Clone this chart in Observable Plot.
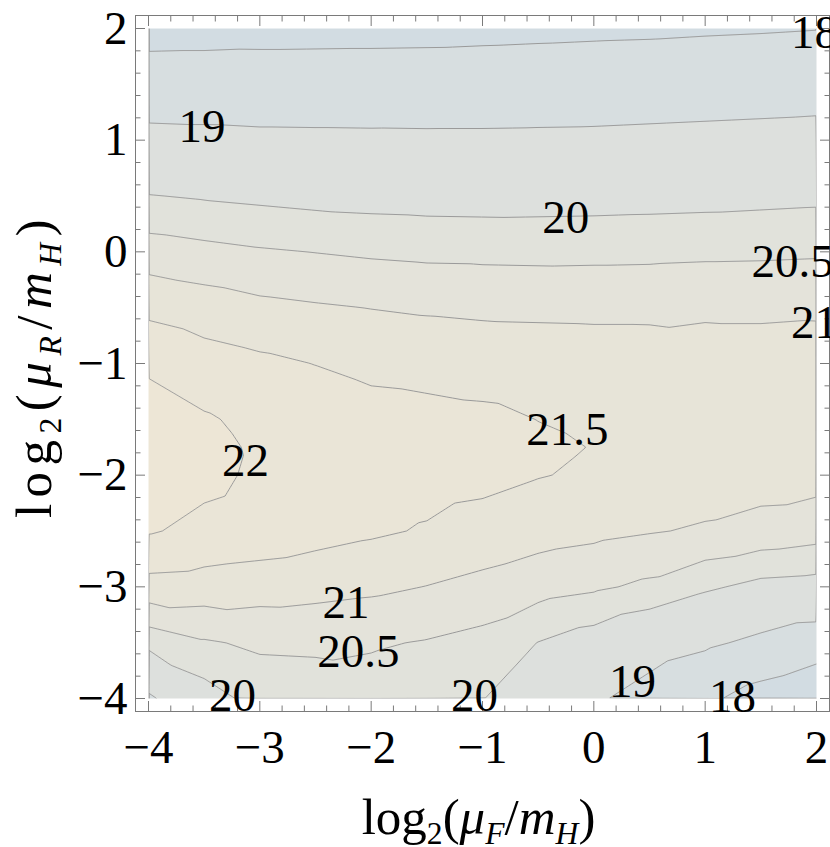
<!DOCTYPE html>
<html><head><meta charset="utf-8">
<script src="https://cdn.jsdelivr.net/npm/d3@7"></script>
<script src="https://cdn.jsdelivr.net/npm/@observablehq/plot@0.6"></script>
<style>html,body{margin:0;padding:0;background:#fff}</style>
</head><body><div id="chart"></div>
<script>
// grid of sample positions
const xGrid = [-4, -3.5, -3, -2.5, -2, -1.5, -1, -0.5, 0, 0.5, 1, 1.5, 2];
const yGrid = [2, 1.5, 1, 0.5, 0, -0.5, -1, -1.5, -1.75, -2, -2.5, -3, -3.5, -4];
// values (rows follow yGrid, columns follow xGrid)
const zRows = [
  [17.68, 17.70, 17.73, 17.74, 17.75, 17.76, 17.79, 17.82, 17.85, 17.87, 17.91, 17.94, 17.98],
  [18.46, 18.46, 18.45, 18.45, 18.45, 18.46, 18.47, 18.49, 18.51, 18.54, 18.57, 18.60, 18.64],
  [19.24, 19.21, 19.17, 19.16, 19.15, 19.14, 19.14, 19.15, 19.16, 19.19, 19.22, 19.25, 19.28],
  [20.02, 19.95, 19.89, 19.83, 19.80, 19.78, 19.77, 19.78, 19.79, 19.81, 19.83, 19.86, 19.89],
  [20.74, 20.64, 20.55, 20.49, 20.43, 20.39, 20.38, 20.37, 20.38, 20.39, 20.41, 20.42, 20.44],
  [21.38, 21.25, 21.12, 21.05, 20.99, 20.94, 20.90, 20.89, 20.88, 20.88, 20.92, 20.92, 20.94],
  [21.91, 21.71, 21.60, 21.49, 21.38, 21.35, 21.33, 21.30, 21.28, 21.27, 21.22, 21.20, 21.19],
  [22.25, 22.05, 21.88, 21.80, 21.68, 21.63, 21.58, 21.495, 21.44, 21.36, 21.30, 21.26, 21.24],
  [22.30, 22.10, 21.95, 21.87, 21.75, 21.68, 21.66, 21.56, 21.49, 21.38, 21.30, 21.26, 21.24],
  [22.25, 22.12, 21.92, 21.85, 21.73, 21.68, 21.63, 21.52, 21.44, 21.33, 21.24, 21.20, 21.18],
  [22.04, 21.88, 21.80, 21.68, 21.57, 21.46, 21.32, 21.20, 21.12, 21.03, 20.95, 20.84, 20.72],
  [21.33, 21.29, 21.23, 21.17, 21.10, 20.99, 20.86, 20.70, 20.58, 20.40, 20.09, 19.85, 19.79],
  [20.17, 20.45, 20.58, 20.60, 20.55, 20.47, 20.34, 19.99, 19.74, 19.40, 19.14, 18.82, 18.53],
  [18.87, 19.75, 20.20, 20.22, 20.28, 20.18, 20.02, 19.57, 19.13, 18.65, 18.17, 17.63, 17.14]
];
const levels = [17, 18, 19, 20, 20.5, 21, 21.5, 22];
const bandColors = ["#d2dce2", "#d7dee0", "#dde0dd", "#e1e2db", "#e4e3da", "#e7e4d8", "#eae5d7", "#ede6d6"];
const majorTicks = [-4, -3, -2, -1, 0, 1, 2];
// contour labels
const labelText = ["18", "19", "20", "20.5", "21", "22", "21.5", "21", "20.5", "20", "20", "19", "18"];
const labelX = [1.982, -3.52, -0.253, 1.785, 1.982, -3.129, -0.237, -2.226, -2.114, -3.245, -1.072, 0.347, 1.245];
const labelY = [1.96, 1.118, 0.303, -0.087, -0.633, -1.877, -1.591, -3.145, -3.585, -3.973, -3.973, -3.848, -3.982];
const xTitle = "log2(μF/mH)";
const yTitle = "log2(μR/mH)";

const points = yGrid.flatMap((y, r) => xGrid.map((x, c) => ({x, y, z: zRows[r][c]})));
const labels = labelText.map((t, i) => ({t, x: labelX[i], y: labelY[i]}));
const minorTicks = d3.range(-4, 2.0001, 0.2).filter(v => Math.abs(v - Math.round(v)) > 1e-6);
const fmt = d => (d < 0 ? "\u2212" + Math.abs(d) : String(d));
const FS = 47;
const FT = 51;
const SERIF = "'Liberation Serif', 'Times New Roman', Times, serif";
const grey = "#7a7a7a";

const tickAxes = [];
for (const anchor of ["bottom", "top"]) {
  tickAxes.push(Plot.axisX({ticks: majorTicks, anchor, tickSize: -10, tickFormat: () => "", stroke: grey, label: null}));
  tickAxes.push(Plot.axisX({ticks: minorTicks, anchor, tickSize: -5.5, tickFormat: () => "", stroke: grey, label: null}));
}
for (const anchor of ["left", "right"]) {
  tickAxes.push(Plot.axisY({ticks: majorTicks, anchor, tickSize: -10, tickFormat: () => "", stroke: grey, label: null}));
  tickAxes.push(Plot.axisY({ticks: minorTicks, anchor, tickSize: -5.5, tickFormat: () => "", stroke: grey, label: null}));
}

const chart = Plot.plot({
  width: 830, height: 847,
  marginLeft: 135, marginRight: 1, marginTop: 15, marginBottom: 136,
  x: {domain: [-4, 2], insetLeft: 13, insetRight: 13},
  y: {domain: [-4, 2], insetTop: 13, insetBottom: 13},
  color: {type: "threshold", domain: levels.slice(1), range: bandColors},
  style: {fontFamily: SERIF, background: "white", color: "black"},
  marks: [
    Plot.contour(points, {
      x: "x", y: "y", fill: "z", interpolate: "barycentric", thresholds: levels,
      stroke: "#9a9a9a", strokeWidth: 1, x1: -4.25, x2: 2.25, y1: -4.25, y2: 2.25,
      clip: true, pixelSize: 1
    }),
    Plot.frame({stroke: "white", strokeWidth: 13, inset: 6.5}),
    Plot.frame({stroke: grey, strokeWidth: 1}),
    ...tickAxes,
    Plot.axisX({ticks: majorTicks, anchor: "bottom", tickSize: 0, tickPadding: 18, tickFormat: fmt, fontSize: FS, fontFamily: SERIF, label: null}),
    Plot.axisY({ticks: majorTicks, anchor: "left", tickSize: 0, tickPadding: 8, tickFormat: fmt, fontSize: FS, fontFamily: SERIF, label: null}),
    Plot.text(labels, {x: "x", y: "y", text: "t", fontSize: FS, fontFamily: SERIF, fill: "black"}),
    Plot.text([xTitle], {frameAnchor: "bottom", textAnchor: "middle", lineAnchor: "middle", dy: 106, dx: -4, text: d => d, fontSize: FT, fontFamily: SERIF, fill: "black"}),
    Plot.text([yTitle], {frameAnchor: "left", textAnchor: "middle", lineAnchor: "middle", dx: -101, dy: 2, rotate: -90, text: d => d, fontSize: FT, fontFamily: SERIF, fill: "black"})
  ]
});
document.getElementById("chart").appendChild(chart);

// rich formatting (subscripts / italics) for the axis titles
function rich(sel, parts) {
  sel.text(null);
  let shift = 0;
  for (const p of parts) {
    const target = p.sub ? 0.19 * FT : 0;
    const ts = sel.append("tspan").text(p.t);
    if (p.sub) ts.attr("font-size", FT * 0.62);
    if (p.it) ts.attr("font-style", "italic");
    if (target !== shift) { ts.attr("dy", target - shift); shift = target; }
  }
}
const root = d3.select(chart);
const findText = s => root.selectAll("text").filter(function () { return this.textContent === s; });
rich(findText(xTitle), [
  {t: "log"}, {t: "2", sub: true}, {t: "("}, {t: "μ", it: true}, {t: "F", it: true, sub: true},
  {t: "/"}, {t: "m", it: true}, {t: "H", it: true, sub: true}, {t: ")"}
]);
const yt = findText(yTitle);
rich(yt, [
  {t: "log"}, {t: "2", sub: true}, {t: "("}, {t: "μ", it: true}, {t: "R", it: true, sub: true},
  {t: "/"}, {t: "m", it: true}, {t: "H", it: true, sub: true}, {t: ")"}
]);
yt.style("letter-spacing", "6.5px");
</script>
</body></html>
